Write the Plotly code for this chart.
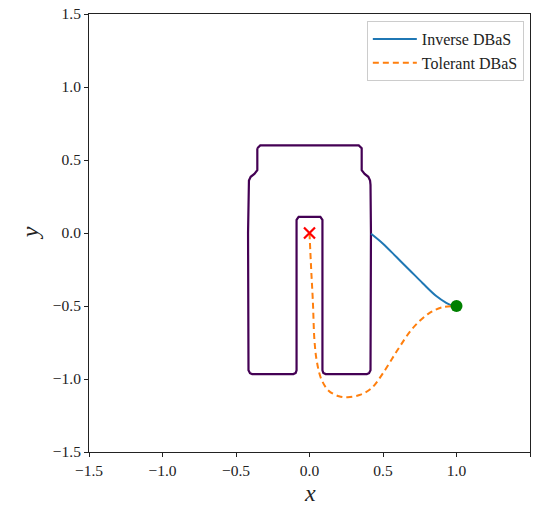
import plotly.graph_objects as go

# Obstacle outline (closed level-set contour)
outline_x = [-0.355, -0.335, 0.335, 0.355, 0.355, 0.375, 0.400, 0.412, 0.415, 0.418, 0.415,
             0.405, 0.390, 0.110, 0.094, 0.088, 0.088, 0.074, -0.074, -0.088, -0.088, -0.094,
             -0.110, -0.390, -0.405, -0.415, -0.418, -0.415, -0.412, -0.400, -0.375, -0.355, -0.355]
outline_y = [0.580, 0.600, 0.600, 0.580, 0.430, 0.405, 0.385, 0.360, 0.330, 0.000, -0.940,
             -0.960, -0.966, -0.966, -0.958, -0.940, 0.090, 0.110, 0.110, 0.090, -0.940, -0.958,
             -0.966, -0.966, -0.960, -0.940, 0.000, 0.330, 0.360, 0.385, 0.405, 0.430, 0.580]

# Inverse DBaS trajectory
inverse_x = [0.419, 0.50, 0.59, 0.68, 0.77, 0.86, 0.93, 0.97, 1.00]
inverse_y = [-0.005, -0.073, -0.163, -0.253, -0.344, -0.430, -0.478, -0.497, -0.500]

# Tolerant DBaS trajectory
tolerant_x = [0.000, 0.011, 0.023, 0.034, 0.050, 0.080, 0.130, 0.200, 0.260, 0.340,
              0.420, 0.500, 0.600, 0.700, 0.810, 0.900, 1.000]
tolerant_y = [0.000, -0.240, -0.470, -0.740, -0.880, -1.000, -1.080, -1.118, -1.125, -1.110,
              -1.065, -0.960, -0.800, -0.655, -0.552, -0.510, -0.500]

start_pt = (0.0, 0.0)
goal_pt = (1.0, -0.5)

ticks = [-1.5, -1.0, -0.5, 0.0, 0.5, 1.0, 1.5]
tick_text = [f"{t:.1f}".replace("-", "\u2212") for t in ticks]

SERIF = "Liberation Serif"

fig = go.Figure()

fig.add_trace(go.Scatter(x=outline_x, y=outline_y, mode="lines",
                         line=dict(color="#440154", width=2.2),
                         showlegend=False, hoverinfo="skip"))
fig.add_trace(go.Scatter(x=inverse_x, y=inverse_y, mode="lines", name="Inverse DBaS",
                         line=dict(color="#1f77b4", width=2, shape="spline", smoothing=1)))
fig.add_trace(go.Scatter(x=tolerant_x, y=tolerant_y, mode="lines", name="Tolerant DBaS",
                         line=dict(color="#ff7f0e", width=2, dash="6px,4px",
                                   shape="spline", smoothing=1)))
fig.add_trace(go.Scatter(x=[start_pt[0]], y=[start_pt[1]], mode="markers", showlegend=False,
                         marker=dict(symbol="x-thin", size=11, color="red",
                                     line=dict(color="red", width=2.2))))
fig.add_trace(go.Scatter(x=[goal_pt[0]], y=[goal_pt[1]], mode="markers", showlegend=False,
                         marker=dict(symbol="circle", size=12, color="green")))

axis_common = dict(
    range=[-1.5, 1.5], tickvals=ticks, ticktext=tick_text,
    showgrid=False, zeroline=False,
    showline=True, linecolor="#222222", linewidth=1, mirror=True,
    ticks="outside", ticklen=4, tickwidth=1, tickcolor="#222222",
    tickfont=dict(family=SERIF, size=15.5, color="#222222"),
)
fig.update_xaxes(**axis_common)
fig.update_yaxes(**axis_common)

fig.add_annotation(text="<i>x</i>", xref="paper", yref="paper", x=0.5, y=-0.093,
                   xanchor="center", yanchor="middle",
                   showarrow=False, font=dict(family=SERIF, size=24, color="#222222"))
fig.add_annotation(text="<i>y</i>", xref="paper", yref="paper", x=-0.133, y=0.5,
                   xanchor="center", yanchor="middle",
                   textangle=-90, showarrow=False,
                   font=dict(family=SERIF, size=24, color="#222222"))

fig.update_layout(
    width=536, height=508,
    margin=dict(l=89, r=5, t=10, b=56),
    plot_bgcolor="white", paper_bgcolor="white",
    legend=dict(x=0.986, y=0.984, xanchor="right", yanchor="top",
                bgcolor="white", bordercolor="#cccccc", borderwidth=1,
                font=dict(family=SERIF, size=16, color="#222222"),
                itemwidth=44, tracegroupgap=2),
)

fig.write_html("out.html")
